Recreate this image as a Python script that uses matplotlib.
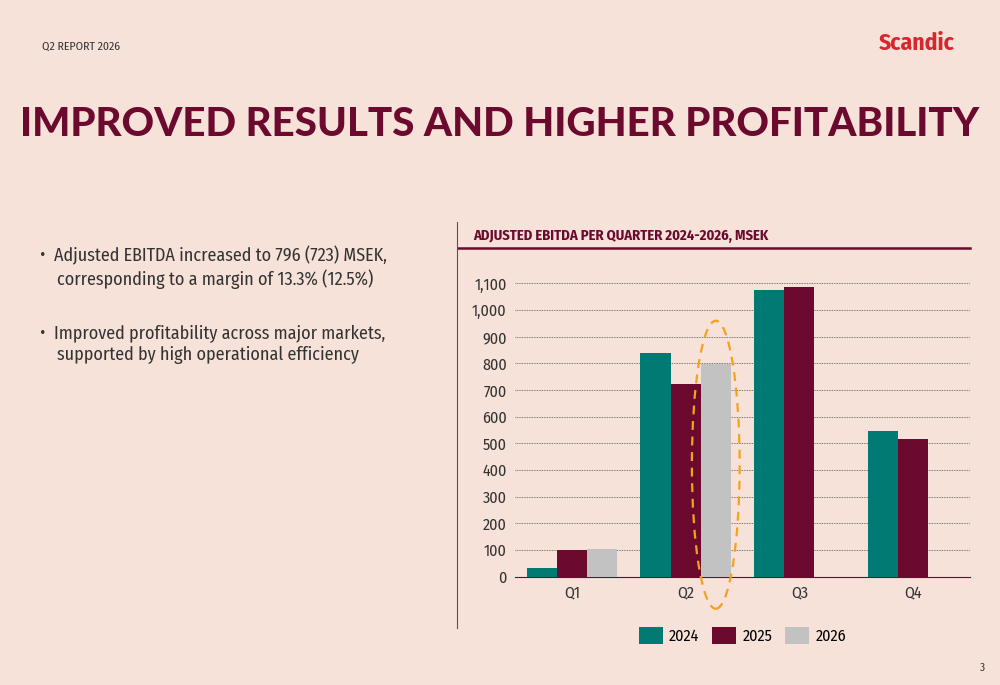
import matplotlib.pyplot as plt
from matplotlib.patches import Ellipse
from matplotlib.lines import Line2D
import numpy as np

quarters = ["Q1", "Q2", "Q3", "Q4"]
ebitda_2024 = [33, 840, 1075, 545]
ebitda_2025 = [100, 723, 1087, 515]
ebitda_2026 = [105, 796, np.nan, np.nan]
yticks = list(range(0, 1101, 100))

bg = "#f6e2d8"
maroon = "#6b0a2e"
teal = "#007a73"
grey = "#c2c2c2"

plt.rcParams['font.family'] = ['Fira Sans Condensed', 'Roboto', 'DejaVu Sans']
fig = plt.figure(figsize=(10, 6.85), dpi=100, facecolor=bg)

fig.text(0.042, 0.932, "Q2 REPORT 2026", fontsize=8.5, color="#333333", va="center")
fig.text(0.955, 0.937, "Scandic", fontsize=17, color="#d8262e", fontweight="bold", ha="right", va="center")
fig.text(0.5, 0.818, "IMPROVED RESULTS AND HIGHER PROFITABILITY", fontsize=29, color=maroon,
         fontweight="black", ha="center", va="center", family=['Lato', 'DejaVu Sans'])
fig.text(0.04, 0.61, "•  Adjusted EBITDA increased to 796 (723) MSEK,\n    corresponding to a margin of 13.3% (12.5%)",
         fontsize=13, color="#333333", va="center", linespacing=1.25)
fig.text(0.04, 0.497, "•  Improved profitability across major markets,\n    supported by high operational efficiency",
         fontsize=13, color="#333333", va="center", linespacing=1.25)
fig.text(0.473, 0.655, "ADJUSTED EBITDA PER QUARTER 2024-2026, MSEK", fontsize=10.5, color=maroon,
         fontweight="bold", va="center")
fig.text(0.985, 0.02, "3", fontsize=8, color="#333333", ha="right")
fig.add_artist(Line2D([0.458, 0.97], [0.638, 0.638], color=maroon, lw=1.8))
fig.add_artist(Line2D([0.457, 0.457], [0.083, 0.676], color="#555555", lw=0.8))

ax = fig.add_axes([0.515, 0.158, 0.455, 0.44])
ax.set_facecolor(bg)
x = np.arange(len(quarters))
w = 0.265
ax.bar(x - w, ebitda_2024, w, color=teal, label="2024", zorder=3)
ax.bar(x, ebitda_2025, w, color=maroon, label="2025", zorder=3)
ax.bar(x + w, ebitda_2026, w, color=grey, label="2026", zorder=3)
ax.set_xlim(-0.5, 3.5)
ax.set_ylim(0, 1130)
ax.set_yticks(yticks)
ax.set_yticklabels([f"{v:,}" for v in yticks], fontsize=11.5, color="#333333")
ax.set_xticks(x)
ax.set_xticklabels(quarters, fontsize=11.5, color="#333333")
ax.tick_params(length=0, pad=6)
ax.yaxis.grid(True, ls=(0, (1, 1)), color="#555555", lw=0.6, zorder=0)
for s in ["top", "right", "left"]:
    ax.spines[s].set_visible(False)
ax.spines["bottom"].set_color(maroon)
ax.add_patch(Ellipse((1 + w, 420), 0.42, 1080, fill=False, ec="#f5a21b", lw=1.6,
                     ls=(0, (4, 3)), clip_on=False, zorder=4))
ax.legend(loc="upper center", bbox_to_anchor=(0.5, -0.12), ncol=3, frameon=False,
          fontsize=11.5, handlelength=1.5, handleheight=1.2, columnspacing=0.8, handletextpad=0.4)

fig.savefig("out.png", facecolor=bg)
